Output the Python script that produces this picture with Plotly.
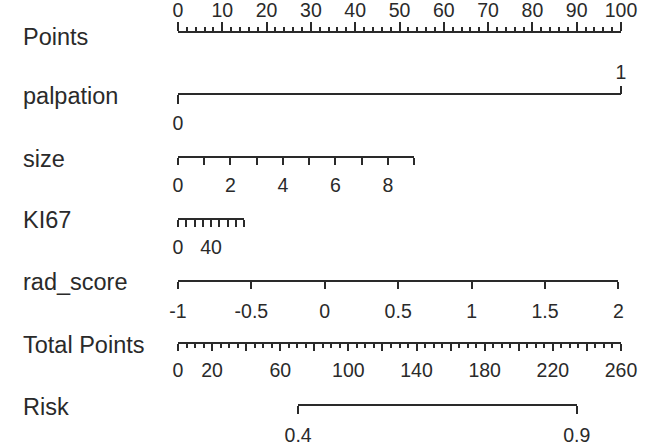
import plotly.graph_objects as go

# ---- data ----
row_names = ["Points", "palpation", "size", "KI67", "rad_score", "Total Points", "Risk"]

points_ticks = list(range(0, 101, 10))

palpation_levels = [0, 1]
palpation_points = [0, 100]

size_ticks = list(range(0, 10))
size_labels = ["0", "", "2", "", "4", "", "6", "", "8", ""]
size_points_max = 53.3  # points at size = 9

ki67_ticks = list(range(0, 81, 10))
ki67_labels = ["0", "", "", "", "40", "", "", "", ""]
ki67_points_max = 14.9  # points at KI67 = 80

rad_ticks = [-1, -0.5, 0, 0.5, 1, 1.5, 2]
rad_labels = ["-1", "-0.5", "0", "0.5", "1", "1.5", "2"]
rad_points_max = 99.4  # points at rad_score = 2

total_ticks = list(range(0, 261, 20))
total_labels = ["0", "20", "", "60", "", "100", "", "140", "", "180", "", "220", "", "260"]
total_max = 260

risk_values = [0.4, 0.9]
risk_total_points = [70.5, 234.0]  # total points where risk = 0.4 / 0.9

# ---- layout geometry ----
W, H = 646, 447
L, R = 178, 621
row_y = [32, 94, 157, 219, 281, 343, 405]
label_y = [37, 96, 159, 220, 282, 345, 407]

ink = "#2a2a2a"
tick_font = dict(family="Liberation Sans, Arial, sans-serif", size=19.5, color=ink)
lab_font = dict(family="Liberation Sans, Arial, sans-serif", size=23.5, color=ink)


def pos(ypix):
    return 1 - ypix / H


fig = go.Figure()
axes = {}


def add_axis(name, rng, domain, ypix, side, **kw):
    d = dict(range=rng, domain=domain, anchor="free", position=pos(ypix), side=side,
             showline=True, linecolor=ink, linewidth=2, showgrid=False, zeroline=False,
             ticks="outside", tickcolor=ink, tickwidth=1.6, tickfont=tick_font,
             fixedrange=True)
    d.update(kw)
    axes[name] = d
    ref = "x" if name == "xaxis" else "x" + name[5:]
    fig.add_trace(go.Scatter(x=list(rng), y=[-5, -5], xaxis=ref, yaxis="y", mode="markers",
                             marker=dict(opacity=0), hoverinfo="skip", showlegend=False))


# Points
add_axis("xaxis", [0, 100], [0, 1], row_y[0], "top",
         tickmode="array", tickvals=points_ticks, ticktext=[str(v) for v in points_ticks],
         ticklen=9, ticklabelstandoff=-3,
         minor=dict(dtick=2, ticklen=4, ticks="outside", tickcolor=ink, tickwidth=1.6))

# palpation (0 below left, 1 above right)
add_axis("xaxis2", palpation_levels, [palpation_points[0] / 100, palpation_points[1] / 100],
         row_y[1], "bottom", tickmode="array", tickvals=[palpation_levels[0]],
         ticktext=[str(palpation_levels[0])], ticklen=9, ticklabelstandoff=3)
add_axis("xaxis3", palpation_levels, [palpation_points[0] / 100, palpation_points[1] / 100],
         row_y[1], "top", showline=False, tickmode="array", tickvals=[palpation_levels[1]],
         ticktext=[str(palpation_levels[1])], ticklen=8, ticklabelstandoff=-1)

# size
add_axis("xaxis4", [size_ticks[0], size_ticks[-1]], [0, size_points_max / 100], row_y[2],
         "bottom", tickmode="array", tickvals=size_ticks, ticktext=size_labels,
         ticklen=7, ticklabelstandoff=4)

# KI67
add_axis("xaxis5", [ki67_ticks[0], ki67_ticks[-1]], [0, ki67_points_max / 100], row_y[3],
         "bottom", tickmode="array", tickvals=ki67_ticks, ticktext=ki67_labels,
         ticklen=7, ticklabelstandoff=4)

# rad_score
add_axis("xaxis6", [rad_ticks[0], rad_ticks[-1]], [0, rad_points_max / 100], row_y[4],
         "bottom", tickmode="array", tickvals=rad_ticks, ticktext=rad_labels,
         ticklen=7, ticklabelstandoff=6)

# Total Points
add_axis("xaxis7", [0, total_max], [0, 1], row_y[5], "bottom",
         tickmode="array", tickvals=total_ticks, ticktext=total_labels,
         ticklen=7, ticklabelstandoff=3,
         minor=dict(dtick=5, ticklen=4, ticks="outside", tickcolor=ink, tickwidth=1.6))

# Risk
add_axis("xaxis8", risk_total_points,
         [risk_total_points[0] / total_max, risk_total_points[1] / total_max], row_y[6],
         "bottom", tickmode="array", tickvals=risk_total_points,
         ticktext=[str(v) for v in risk_values], ticklen=8, ticklabelstandoff=5)

fig.update_layout(**axes)
fig.update_layout(
    width=W, height=H,
    margin=dict(l=L, r=W - R, t=0, b=0, autoexpand=False),
    paper_bgcolor="white", plot_bgcolor="rgba(0,0,0,0)",
    yaxis=dict(range=[0, 1], domain=[0, 1], visible=False, fixedrange=True),
    showlegend=False,
)

for name, yp in zip(row_names, label_y):
    fig.add_annotation(text=name, xref="paper", yref="paper",
                       x=(21 - L) / (R - L), y=pos(yp), xanchor="left", yanchor="middle",
                       showarrow=False, font=lab_font)

fig.write_html("out.html", config={"displayModeBar": False},
               post_script="document.body.style.margin='0';")
